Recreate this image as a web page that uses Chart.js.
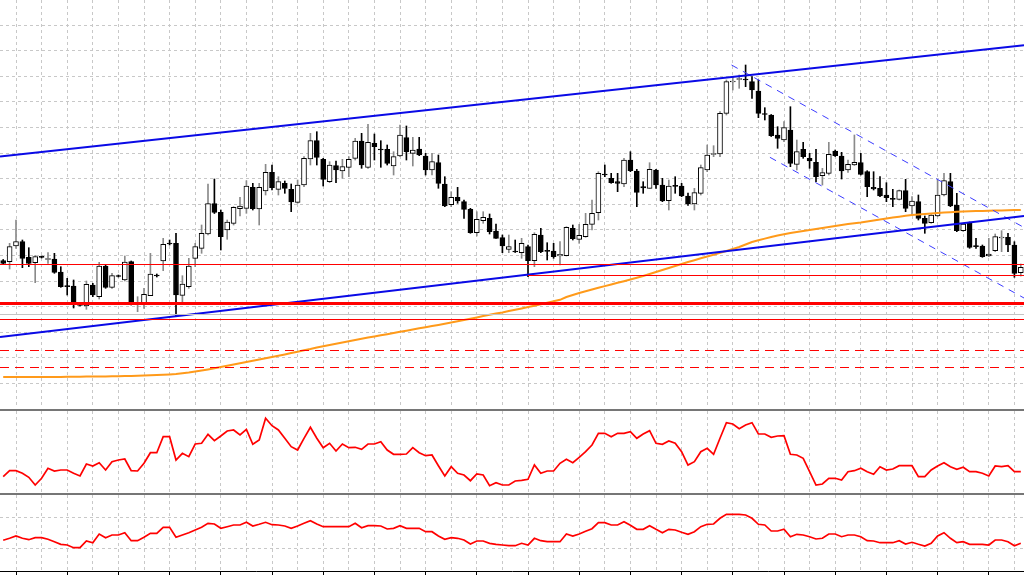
<!DOCTYPE html>
<html>
<head>
<meta charset="utf-8">
<script src="https://cdn.jsdelivr.net/npm/chart.js@4.4.1/dist/chart.umd.min.js"></script>
<style>
html, body { margin: 0; padding: 0; background: #fff; overflow: hidden; }
#wrap { position: relative; width: 1024px; height: 576px; }
.pane { position: absolute; left: 0; width: 1024px; }
.sep { position: absolute; left: 0; width: 1024px; background: #767676; }
</style>
</head>
<body>
<div id="wrap">
  <div class="pane" style="top:0;height:408px"><canvas id="main"></canvas></div>
  <div class="sep" style="top:409px;height:2px"></div>
  <div class="pane" style="top:411px;height:82px"><canvas id="osc1"></canvas></div>
  <div class="sep" style="top:493px;height:2px"></div>
  <div class="pane" style="top:495px;height:81px"><canvas id="osc2"></canvas></div>
</div>
<script>
// candles (price units of the chart)
const open = [239.5,238.3,254,258.3,242.7,237.3,243.7,240.5,241,228,214.5,214,195.5,194,215,203.3,234,212.7,224.5,220,
  238.3,196,196,204.3,225,239,257,256.7,204.7,213.3,241.7,251.7,266,296.3,287.7,270,276.7,291.3,291.7,312.7,
  291,309,327.7,310.7,316.7,310.7,297.7,315,341,359.3,340.7,318.3,334.3,329,332.7,341.7,359,332.7,356.7,351,
  350.7,334,344,362.3,346.7,351,344,330,337.3,316,295.3,302.7,298.3,290.7,267.3,279.3,281.7,269,262.3,250.7,
  249,247.3,253.3,239.3,265,249.7,249,244,244.3,271.7,260.7,263.3,275.7,287.3,326,321.7,318.3,316,340,329,
  313.3,311.7,330,315,299.3,314.7,314,304,296,306.7,330,345.5,346,386.7,418,420.5,421,418.3,409,386.5,
  385,365,360,370,335.7,350.7,341.7,337.7,324.3,326.7,349,344,330,335,337.3,328.3,312.7,311.7,305,301.7,
  300.7,309.3,294,298.3,281.7,277.3,284,305,318.3,295,269.3,277.3,254.3,254,244,249.3,262,262.7,255,227.3];
const high = [240.5,256.7,280,260,252.3,244.5,244,247.3,246.7,233.3,221.7,220,196,219,216.7,237.7,235,226.7,225,244,
  239,203.3,211.7,246.7,226,261.7,260,266.7,224.3,241.7,256.7,275,316,321,290,280,293.3,302.7,319.3,316.7,
  316.7,335.7,335,323.3,319,316,320,343.3,366.7,368.3,341.7,338.3,339,340.7,343.3,361.7,366.7,375.7,366,359.3,
  355,348.3,375,374,362.7,362.7,346.7,346.7,345,323.3,308.3,312.7,300,291.7,288.3,288.3,286,276,265,265,
  260,261.7,255,267.3,271.7,257.3,256.7,258.3,273.3,275,275.7,286.7,300,328.3,335,326.7,326.7,341.7,348.3,330.7,
  318.3,337.3,330.7,321.7,320,323.3,316.7,307,311.7,335,355,354.3,388.3,420,423.3,425,435,423.3,420,392.3,
  385.5,373.3,378.3,393.3,360,357.7,346.7,350.7,331.7,357.7,350,347.7,340,365,346.7,329.3,328.3,323.3,317.3,310.7,
  310,320.7,303.3,305,284,285.5,320,326.7,326.7,306.7,276.5,278,261.7,255,261.7,266,269.3,266.7,258.3,236];
const low = [235.5,231,251.7,232.3,233.3,217.3,242,236.7,226.7,212.7,205,192,194,190.7,203.3,201,211.7,211.7,223,219,
  195,188.3,191.7,204.3,223,229.3,255,183.7,196.7,211.7,233.3,246.7,265,286.5,250,260.7,275,284,286.7,290,
  275,305,310,305,306.7,288.3,296.7,313.3,335,335,314,317.3,317.3,321.7,323.3,340,331.7,331.7,340,332.7,
  335,325,343.3,340,334,344.3,325,325,311.7,293.3,293.3,296.7,281.7,266.7,264,276.7,266,261.7,247.3,247.3,
  247.5,241.7,223.3,233.3,247.3,240,241.7,235,244,260,256.7,262.7,270,280,323.3,316.7,308.3,313.3,328.3,293.3,
  306.7,311.7,311.7,298.3,290,306.7,303.3,294.5,290,305,328.3,343.3,343.3,385,410,411.7,413.3,401.7,382.3,380,
  363.5,351.7,358.3,333.3,330,341.7,331.7,318.3,315,325,343.5,321,327.7,334.5,325,303.3,310,303.3,298.3,293.3,
  300,288.3,285,280,266.7,276.7,283.3,304,293.3,268.3,268.5,251.7,251.7,242.7,243.3,248.3,248.3,248.3,222.7,224];
const close = [236.5,253.3,258.3,241.7,236.7,243.3,242.7,241.5,227.7,213.3,213.3,197.7,194.5,215.7,205,234,212.7,224.3,223.5,238,
  196.7,197,205.7,226,224,255.7,256,205,216,234,253.3,266.7,296.3,287.7,263.3,278,292.7,294,314,291.3,
  312.7,327.7,312.3,318.3,311.7,298,315,341.7,359.3,342.7,320.7,335,330,333.3,340.7,359,335,357.7,353.3,350,
  336.7,343.3,365,348.3,350,345,330,338.3,316.7,294,302.7,299,290.7,267.3,280.7,282.7,268.3,261.7,254,253.3,
  248,256.7,239.3,265.7,248.3,248.7,243.3,245.7,272.7,261.3,264.7,275.7,286.7,326.7,325,317.3,316.7,340,329.3,307.7,
  312,330.7,315,299,314,313.7,304,296,307.3,332.3,345,346.5,386.7,418.3,419,421.5,420,410,386.7,385.5,
  364.3,361.7,372.3,336.7,348.3,343.3,339,323.3,327.3,345.7,344.3,329,335.7,337.7,325.7,313.3,311,304,302.3,300.7,
  309.3,291.7,299,281.7,276.7,285,305,319.3,294,269.3,276,252.7,253.3,243.3,246,263.3,263,255,226.7,232.7];

// moving average drawn on the candles
const movingAvg = [123,123,123,123,123,123,123,123,123,123,
  123.2,123.3,123.3,123.4,123.5,123.6,123.6,123.7,123.8,124,
  124.1,124.3,124.5,124.8,125,125.3,125.6,126,126.7,127.5,
  128.5,129.5,130.6,131.8,133,134.2,135.5,136.7,138,139.3,
  140.5,141.8,143,144.3,145.6,147,148.3,149.8,151,152.5,
  153.8,155,156.3,157.5,158.8,160,161.2,162.4,163.5,164.7,
  165.8,167,168.2,169.3,170.5,171.7,172.8,174,175.1,176.3,
  177.5,178.7,180,181.3,182.6,184,185.2,186.4,187.6,189,
  190.3,191.6,193,194.3,195.7,197.2,198.7,200.2,203,205,
  207,208.8,210.5,212.2,213.9,215.5,217.2,218.8,220.5,222.2,
  224,226,228,230,232,234,236,238,239.8,241.7,
  243.5,245.3,247.2,249,251,253,255.5,258,259.7,261.4,
  263,264.4,265.7,267,268,269,270,271,272,273,
  274,275,275.9,276.7,277.5,278.5,279.5,280.5,281.5,282.4,
  283.3,284.2,285,285.6,286.1,286.6,287,287.4,287.8,288.2,
  288.5,288.7,288.9,289.1,289.3,289.5,289.6,289.8,289.9,290];

// first oscillator (middle pane)
const osc1 = [23.3,29.3,29.3,26.7,22.7,15,21.7,31.7,29,30,30,26.7,24,36,34,37.3,30,38.3,40,41,
  29.3,29,36.7,47.3,47.3,63.3,63.3,40,46.7,43.3,56,56.7,65.7,59.3,64,69,70,65,70.7,55.7,
  60,81.7,74.3,70,61.7,53.3,50,61.7,72.7,61.7,52.3,56.7,49,56,52.3,52.7,50.7,56,56,58.3,
  50,45.7,45.7,46,52.3,47.3,44.3,45,34.3,24,33.3,26.7,25,19.3,26,25,14.3,17.3,15,15,
  19,19.7,20.7,35,26.7,29,29,36.7,40.7,37.3,42.7,48.3,55,66.7,66.7,63.3,66.7,66.7,68.3,61.7,
  66,69.3,56.7,55.7,59,56.7,48.3,35,38.3,48.3,51.7,45.7,61.7,77.3,76,71.3,75,77.3,66,66,
  62.7,64,64.3,45.7,45,41.7,28.3,15,16,21.7,21.7,20,28.3,29.3,31.7,28.3,25.7,33.3,30,31,
  34.3,34.3,34.3,23.3,23.3,30,34,37.3,33.3,30.7,32.7,28.3,28.3,26.7,24,34,33.3,34.3,28.3,28.3];

// second oscillator (bottom pane)
const osc2 = [59.7,61.7,64,61.7,60.3,62.3,62.3,60.7,58.3,55.7,55,52.3,52.3,59,57.3,66,62.3,65,65,67.3,
  59.3,59.3,62.7,66.7,66.7,72.7,72.7,62.7,65,67.3,70,72.7,76.7,76,71.7,73.3,75,75,77.7,74,
  75.7,77.7,75.3,75,74,71.7,74,76.7,79.3,76,73.3,73.3,73.3,73.3,73.3,76.7,72.3,74.3,74.3,74,
  71,71.7,74.3,71.7,71.7,71.7,68.3,68.3,64,60.7,62.3,61.7,60,56,59,59,56.7,55.7,55,54.3,
  54.3,56.7,55,61.7,59.3,58.3,58.3,58.3,66,64,66,68.7,71.3,77.3,77.3,75,75,78.3,74.7,70.7,
  70.7,74.3,70.7,67.3,70.7,70,67.7,65.7,68.3,73.3,75.7,76,81.7,85.7,85.7,85.7,85,81.7,75.7,75,
  69,69,70.7,63.3,65.7,65,63.3,61,61.7,66,66,63.3,65,65,63.3,59.3,59,57.3,57.3,57.3,
  59.3,56,57.7,55.7,54,56.7,64,67.3,61.7,57.3,58.3,55.7,55.7,55.7,55,60,60,58.3,54.3,56.7];
const osc2Levels = [51.5, 82.5];

// drawn objects: trend lines as [bar index, price] pairs, horizontal levels as prices
const channelUpper = [[-0.5, 343.5], [159.5, 454.7]];
const channelLower = [[-0.5, 163], [159.5, 284]];
const fallUpper = [[113.8, 435], [159.5, 272.5]];
const fallLower = [[119.8, 342.7], [159.5, 202]];
const thinLevels = [235.5, 180.5];
const partLevel = { from: 82, value: 224.5 };
const mainLevel = 196.5;
const dashLevels = [149.5, 132.5];
const greyLevel = 185.5;

const labels = open.map((_, i) => String(i));
const lastX = labels.length - 0.5;

const gridColor = '#c8c8c8';
const vGrid = c => (c.index % 4 === 2 ? gridColor : 'rgba(0,0,0,0)');

function seg(points, color, width, dash) {
  return {
    type: 'line', xAxisID: 'xl', order: 0,
    data: points.map(p => ({ x: p[0], y: p[1] })),
    borderColor: color, borderWidth: width, borderDash: dash || [],
    pointRadius: 0, tension: 0
  };
}
function level(value, from, color, width, dash) {
  return seg([[from, value], [lastX, value]], color, width, dash);
}

const bull = open.map((o, i) => close[i] >= o);

new Chart('main', {
  type: 'bar',
  data: {
    labels: labels,
    datasets: [
      level(greyLevel, -0.5, '#c4c4c4', 1),
      ...thinLevels.map(v => level(v, -0.5, '#ff0000', 1)),
      level(partLevel.value, partLevel.from, '#ff0000', 1),
      level(mainLevel, -0.5, '#ff0000', 3),
      ...dashLevels.map(v => level(v, -0.5, '#ff0000', 1, [9, 6])),
      seg(channelUpper, '#0a0ae6', 2),
      seg(channelLower, '#0a0ae6', 2),
      seg(fallUpper, '#3c3cff', 1, [7, 6]),
      seg(fallLower, '#3c3cff', 1, [7, 6]),
      {
        type: 'line', order: 0, data: movingAvg,
        borderColor: '#ff9a1a', borderWidth: 2, pointRadius: 0, tension: 0
      },
      {
        label: 'body', order: 1, grouped: false, barThickness: 5,
        data: open.map((o, i) => [o, close[i]]),
        backgroundColor: bull.map(b => (b ? '#ffffff' : '#000000')),
        borderColor: '#000000', borderWidth: 1, borderSkipped: false
      },
      {
        label: 'wick', order: 2, grouped: false, barThickness: 1,
        data: low.map((l, i) => [l, high[i]]),
        backgroundColor: bull.map(b => (b ? '#8a8a8a' : '#000000'))
      }
    ]
  },
  options: {
    animation: false, responsive: true, maintainAspectRatio: false, devicePixelRatio: 1,
    layout: { padding: 0 },
    plugins: { legend: { display: false }, tooltip: { enabled: false } },
    scales: {
      x: {
        offset: true,
        grid: { offset: false, color: vGrid, drawTicks: false },
        border: { display: false, dash: [3, 3] },
        ticks: { display: false },
        afterFit: s => { s.height = 0; }
      },
      xl: { type: 'linear', display: false, offset: false, min: -0.5, max: lastX },
      y: {
        min: 92, max: 500,
        grid: { color: gridColor, drawTicks: false },
        border: { display: false, dash: [3, 3] },
        ticks: { display: false },
        afterBuildTicks: s => {
          const t = [];
          for (let v = 116.5; v < s.max; v += 25.6) t.push({ value: v });
          s.ticks = t;
        },
        afterFit: s => { s.width = 0; }
      }
    }
  }
});

function oscChart(id, values, yMin, yMax, hLevels, withAxis) {
  return new Chart(id, {
    type: 'line',
    data: {
      labels: labels,
      datasets: [{
        data: values, borderColor: '#ff0000', borderWidth: 1.7,
        pointRadius: 0, tension: 0
      }]
    },
    options: {
      animation: false, responsive: true, maintainAspectRatio: false, devicePixelRatio: 1,
      layout: { padding: 0 },
      plugins: { legend: { display: false }, tooltip: { enabled: false } },
      scales: {
        x: {
          offset: true,
          grid: {
            offset: false, color: vGrid, drawTicks: withAxis, tickLength: 4,
            tickColor: c => (c.index % 8 === 2 ? '#000000' : 'rgba(0,0,0,0)'),
            tickBorderDash: []
          },
          border: { display: withAxis, color: '#000000', width: 1, dash: [3, 3] },
          ticks: { display: false },
          afterFit: s => { s.height = withAxis ? 5 : 0; }
        },
        y: {
          min: yMin, max: yMax,
          display: hLevels.length > 0,
          grid: { color: gridColor, drawTicks: false },
          border: { display: false, dash: [3, 3] },
          ticks: { display: false },
          afterBuildTicks: s => { s.ticks = hLevels.map(v => ({ value: v })); },
          afterFit: s => { s.width = 0; }
        }
      }
    }
  });
}

oscChart('osc1', osc1, 7, 89, [], false);
oscChart('osc2', osc2, 29, 105, osc2Levels, true);
</script>
</body>
</html>
